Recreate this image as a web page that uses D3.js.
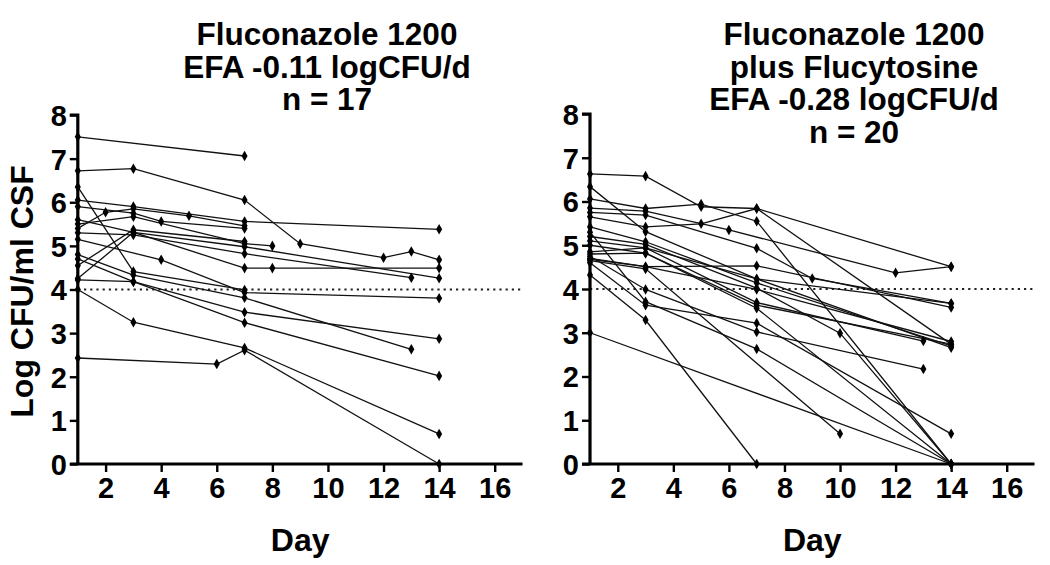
<!DOCTYPE html>
<html><head><meta charset="utf-8">
<script src="https://cdn.jsdelivr.net/npm/d3@7"></script>
<style>
body{margin:0;background:#fff;}
text{font-family:"Liberation Sans",Arial,sans-serif;font-weight:bold;fill:#000;}
</style></head><body>
<svg id="chart" width="1050" height="565"></svg>
<script>
// ---- data ----
const leftTitle = ["Fluconazole 1200", "EFA -0.11 logCFU/d", "n = 17"];
const rightTitle = ["Fluconazole 1200", "plus Flucytosine", "EFA -0.28 logCFU/d", "n = 20"];
const xTicks = [2, 4, 6, 8, 10, 12, 14, 16];
const yTicks = [0, 1, 2, 3, 4, 5, 6, 7, 8];
const threshold = 4;
const yLabel = "Log CFU/ml CSF";
const xLabel = "Day";

// each patient: [day, log CFU]
const leftPatients = [
  [[1,7.5],[7,7.06]],
  [[1,6.72],[3,6.77],[7,6.05],[9,5.05],[12,4.73],[13,4.87],[14,4.68]],
  [[1,6.35],[3,4.41],[7,3.99]],
  [[1,6.05],[3,5.9],[7,5.56],[14,5.38]],
  [[1,5.4],[2,5.77],[3,5.85],[5,5.69],[7,5.46]],
  [[1,5.6],[3,5.31],[7,4.98],[14,4.26]],
  [[1,5.3],[3,5.25],[7,4.82],[13,4.27]],
  [[1,5.15],[4,4.68],[7,3.93],[14,3.8]],
  [[1,4.55],[3,5.37],[7,5.1]],
  [[1,4.25],[3,5.31],[7,4.49],[8,4.49],[14,4.49]],
  [[1,4.8],[3,4.33],[7,3.81],[13,2.63]],
  [[1,4.7],[3,4.18],[7,3.48],[14,2.87]],
  [[1,4.22],[3,4.18],[7,3.24],[14,2.02]],
  [[1,4.0],[3,3.25],[7,2.66],[14,0.69]],
  [[1,2.43],[6,2.29],[7,2.61],[14,0]],
  [[1,5.9],[3,5.75],[4,5.56],[7,5.4]],
  [[1,5.5],[3,5.67],[7,5.05],[8,5.0]]
];
const rightPatients = [
  [[1,6.63],[3,6.58],[5,5.88],[7,5.84],[14,4.51]],
  [[1,5.65],[3,5.42],[5,5.49],[7,5.84],[14,2.74]],
  [[1,6.06],[3,5.84],[5,5.94],[7,5.55],[14,0]],
  [[1,5.85],[3,5.78],[6,5.35],[12,4.37],[14,4.51]],
  [[1,5.75],[3,5.69],[7,4.93],[9,4.24],[14,3.67]],
  [[1,4.7],[3,4.51],[7,4.53],[14,3.58]],
  [[1,6.34],[3,5.31],[7,4.23],[14,2.66]],
  [[1,5.42],[3,5.08],[7,4.14],[14,2.7]],
  [[1,5.2],[3,5.02],[7,4.02],[10,2.99],[14,0]],
  [[1,4.85],[3,4.94],[7,3.69],[13,2.81]],
  [[1,4.65],[3,4.46],[10,0.69]],
  [[1,4.8],[3,4.82],[7,3.56],[14,0]],
  [[1,4.75],[3,3.99],[7,3.02],[13,2.17]],
  [[1,5.3],[3,3.71],[7,2.63],[14,0]],
  [[1,4.6],[3,3.63],[7,3.22],[14,0.69]],
  [[1,4.32],[3,3.29],[7,0]],
  [[1,3.0],[14,0]],
  [[1,4.68],[3,4.51],[7,3.99],[14,2.8]],
  [[1,5.0],[3,4.82],[7,3.63],[14,2.74]],
  [[1,5.1],[3,4.94],[7,4.23],[14,3.67]]
];

// ---- drawing ----
const svg = d3.select("#chart");
const FONT = "Liberation Sans, Arial, sans-serif";

function panel(opts) {
  const {x0, x1, yTop, yBot, patients, title, titleX, titleY0, showYLabel} = opts;
  const x = d3.scaleLinear().domain([1, 17]).range([x0, x1]);
  const y = d3.scaleLinear().domain([0, 8]).range([yBot, yTop]);
  const g = svg.append("g");

  // threshold dotted line
  g.append("line")
    .attr("x1", x(1)).attr("x2", x(17))
    .attr("y1", y(threshold)).attr("y2", y(threshold))
    .attr("stroke", "#222").attr("stroke-width", 2.2)
    .attr("stroke-dasharray", "2.2,4");

  // patient lines
  const line = d3.line().x(d => x(d[0])).y(d => y(d[1]));
  g.selectAll("path.pt").data(patients).enter().append("path")
    .attr("class", "pt")
    .attr("d", line)
    .attr("fill", "none").attr("stroke", "#111").attr("stroke-width", 1.3);

  // markers (diamonds)
  const diamond = d3.symbol().type(d3.symbolDiamond).size(32);
  patients.forEach(p => {
    g.selectAll(null).data(p).enter().append("path")
      .attr("d", diamond)
      .attr("transform", d => `translate(${x(d[0])},${y(d[1])})`)
      .attr("fill", "#000");
  });

  // axes
  const yAxis = d3.axisLeft(y).tickValues(yTicks).tickSize(8).tickPadding(3).tickFormat(d3.format("d"));
  const xAxis = d3.axisBottom(x).tickValues(xTicks).tickSize(8).tickPadding(5).tickFormat(d3.format("d"));
  const ya = g.append("g").attr("transform", `translate(${x(1)},0)`).call(yAxis);
  const xa = g.append("g").attr("transform", `translate(0,${y(0)})`).call(xAxis);
  [ya, xa].forEach(a => {
    a.select(".domain").attr("stroke", "#000").attr("stroke-width", 3.2);
    a.selectAll(".tick line").attr("stroke", "#000").attr("stroke-width", 2.4);
    a.selectAll(".tick text").style("font-size", "29px").style("font-family", FONT).style("font-weight", "bold");
  });
  ya.selectAll(".tick text").attr("dy", "0.36em");
  ya.select(".domain").attr("d", `M-8,${y(8)}H0V${y(0)}`);
  xa.select(".domain").attr("d", `M${x(1)-8},0H${x(17)}`);

  // title
  title.forEach((t, i) => {
    svg.append("text").attr("x", titleX).attr("y", titleY0 + i * 32.7)
      .attr("text-anchor", "middle").style("font-size", "31.5px").text(t);
  });
  // x label
  svg.append("text").attr("x", (x(1) + x(17)) / 2).attr("y", 551)
    .attr("text-anchor", "middle").style("font-size", "32px").text(xLabel);
  if (showYLabel) {
    svg.append("text").attr("transform", `translate(33,${(y(0)+y(8))/2 + 2}) rotate(-90)`)
      .attr("text-anchor", "middle").style("font-size", "32px").text(yLabel);
  }
}

panel({x0: 77.8, x1: 522.5, yTop: 115, yBot: 464, patients: leftPatients,
  title: leftTitle, titleX: 327, titleY0: 45, showYLabel: true});
panel({x0: 590, x1: 1034.5, yTop: 114, yBot: 464, patients: rightPatients,
  title: rightTitle, titleX: 854, titleY0: 45, showYLabel: false});
</script>
</body></html>
